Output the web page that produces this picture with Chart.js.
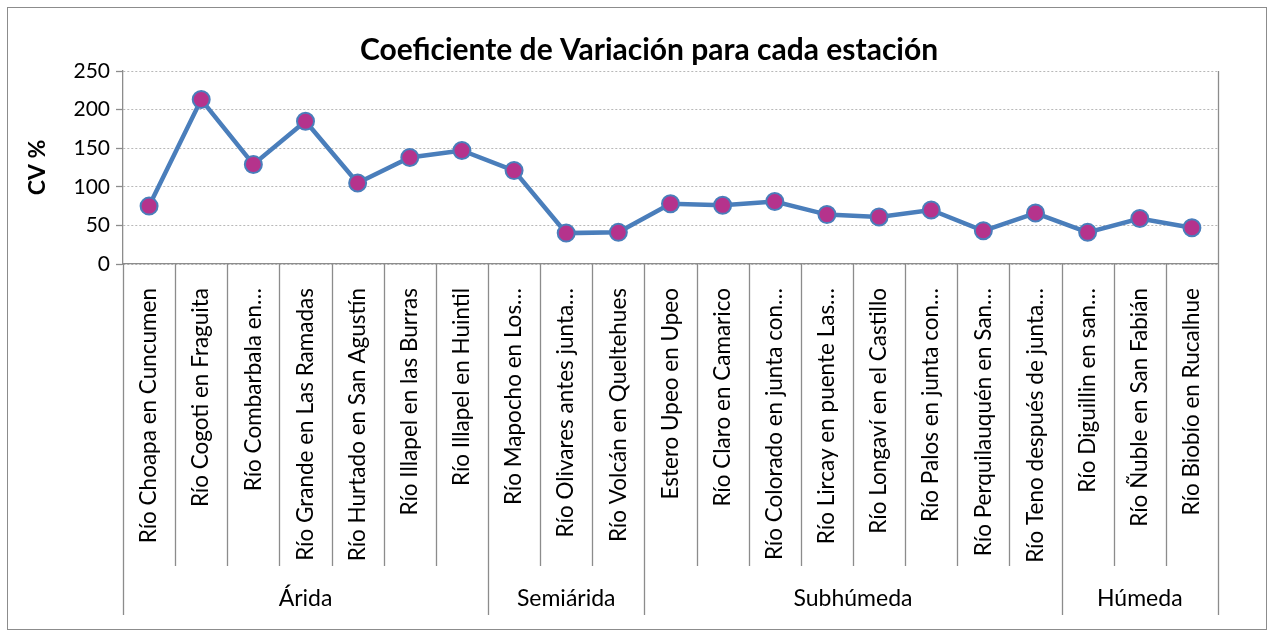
<!DOCTYPE html>
<html>
<head>
<meta charset="utf-8">
<script src="https://cdn.jsdelivr.net/npm/chart.js@4"></script>
<style>
  html, body { margin: 0; padding: 0; background: #fff; }
  #wrap { width: 1274px; height: 636px; }
</style>
</head>
<body>
<div id="wrap"><canvas id="cvChart" width="1274" height="636"></canvas></div>
<script>
const estaciones = [
    'Río Choapa en Cuncumen',
    'Río Cogoti en Fraguita',
    'Río Combarbala en…',
    'Río Grande en Las Ramadas',
    'Río Hurtado en San Agustín',
    'Río Illapel en las Burras',
    'Río Illapel en Huintil',
    'Río Mapocho en Los…',
    'Río Olivares antes junta…',
    'Río Volcán en Queltehues',
    'Estero Upeo en Upeo',
    'Río Claro en Camarico',
    'Río Colorado en junta con…',
    'Río Lircay en puente Las…',
    'Río Longaví en el Castillo',
    'Río Palos en junta con…',
    'Río Perquilauquén en San…',
    'Río Teno después de junta…',
    'Río Diguillin en san…',
    'Río Ñuble en San Fabián',
    'Río Biobío en Rucalhue'
];
const zonas = ['Árida', 'Semiárida', 'Subhúmeda', 'Húmeda'];
const estacionesPorZona = [7, 3, 8, 3];
const valoresCV = [75, 213, 129, 185, 105, 138, 147, 121, 40, 41, 78, 76, 81, 64, 61, 70, 43, 66, 41, 59, 47];
const titulo = 'Coeficiente de Variación para cada estación';

const FONT = 'Lato, "Liberation Sans", sans-serif';
const GRIS = '#8c8c8c';

// dibuja marco, titulo, separadores de categorias y nombres de zona
const agrupador = {
    id: 'agrupador',
    beforeDraw(chart) {
        const ctx = chart.ctx;
        ctx.save();
        ctx.fillStyle = '#fff';
        ctx.fillRect(0, 0, chart.width, chart.height);
        ctx.strokeStyle = GRIS;
        ctx.lineWidth = 1;
        ctx.strokeRect(7.5, 7.5, chart.width - 15, chart.height - 14);

        ctx.fillStyle = '#000';
        ctx.font = 'bold 30px ' + FONT;
        ctx.textAlign = 'center';
        ctx.textBaseline = 'middle';
        ctx.fillText(titulo, 649, 50);
        ctx.restore();
    },
    afterDraw(chart) {
        const ctx = chart.ctx;
        const x = chart.scales.x;
        const area = chart.chartArea;
        const ancho = x.getPixelForValue(1) - x.getPixelForValue(0);
        const bordes = [0];
        estacionesPorZona.forEach(n => bordes.push(bordes[bordes.length - 1] + n));

        ctx.save();
        ctx.strokeStyle = GRIS;
        ctx.lineWidth = 1.3;
        for (let i = 0; i <= estaciones.length; i++) {
            const px = Math.round(x.getPixelForValue(i) - ancho / 2) + 0.5;
            const largo = bordes.includes(i) ? 351 : 302;
            ctx.beginPath();
            ctx.moveTo(px, area.bottom);
            ctx.lineTo(px, area.bottom + largo);
            ctx.stroke();
        }
        // borde derecho del area
        const xr = Math.round(area.right) + 0.5;
        ctx.beginPath();
        ctx.moveTo(xr, area.top);
        ctx.lineTo(xr, area.bottom);
        ctx.stroke();

        ctx.fillStyle = '#000';
        ctx.font = '23px ' + FONT;
        ctx.textAlign = 'center';
        ctx.textBaseline = 'middle';
        zonas.forEach((z, k) => {
            const a = x.getPixelForValue(bordes[k]) - ancho / 2;
            const b = x.getPixelForValue(bordes[k + 1]) - ancho / 2;
            ctx.fillText(z, (a + b) / 2, area.bottom + 335);
        });
        ctx.restore();
    }
};

document.addEventListener("DOMContentLoaded", () => {
    const ctx = document.getElementById('cvChart').getContext('2d');

    new Chart(ctx, {
        type: 'line',
        data: {
            labels: estaciones,
            datasets: [{
                label: 'CV %',
                data: valoresCV,
                borderColor: '#4a7ebb',
                borderWidth: 4.5,
                tension: 0,
                pointRadius: 8.5,
                pointBackgroundColor: '#b5338c',
                pointBorderColor: '#4a7ebb',
                pointBorderWidth: 2
            }]
        },
        options: {
            responsive: false,
            animation: false,
            layout: {
                padding: { left: 20, right: 56, top: 71, bottom: 21 }
            },
            plugins: {
                legend: { display: false },
                tooltip: { enabled: false },
                title: { display: false }
            },
            scales: {
                x: {
                    offset: true,
                    grid: { display: false },
                    border: { color: GRIS, width: 1.3 },
                    ticks: {
                        color: '#000',
                        minRotation: 90,
                        maxRotation: 90,
                        autoSkip: false,
                        padding: 16,
                        font: { family: FONT, size: 22.5 }
                    },
                    afterFit(scale) { scale.height = 351; }
                },
                y: {
                    min: 0,
                    max: 250,
                    ticks: {
                        stepSize: 50,
                        color: '#000',
                        padding: 6,
                        font: { family: FONT, size: 21 }
                    },
                    grid: {
                        color: '#b8b8b8',
                        tickLength: 7,
                        tickColor: GRIS,
                        tickWidth: 1.3,
                        tickBorderDash: []
                    },
                    border: { color: GRIS, width: 1.3, dash: [2, 2] },
                    title: {
                        display: true,
                        text: 'CV %',
                        color: '#000',
                        font: { family: FONT, size: 23, weight: 'bold' },
                        padding: { top: 4, bottom: 0 }
                    },
                    afterFit(scale) { scale.width = 103; }
                }
            }
        },
        plugins: [agrupador]
    });
});
</script>
</body>
</html>
